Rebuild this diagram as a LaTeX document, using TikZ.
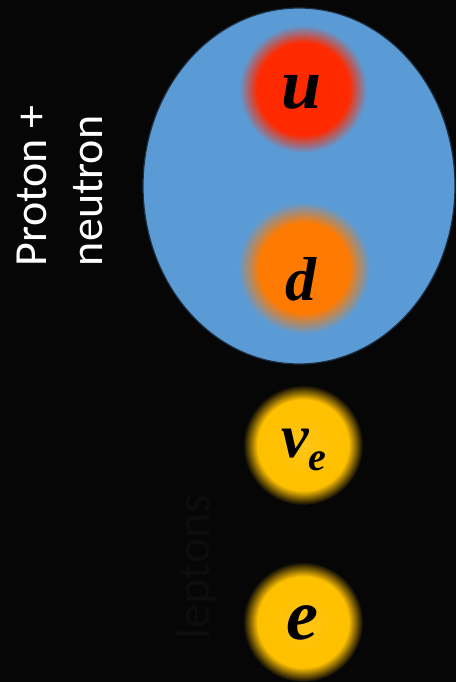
\documentclass[tikz,border=0pt]{standalone}
\usepackage{fontspec}
\setmainfont{Carlito}
\newfontfamily\qfont{Liberation Serif}
\usetikzlibrary{shapes.geometric}
\definecolor{bgblack}{HTML}{060606}
\definecolor{nucblue}{HTML}{5B9BD5}
\definecolor{upred}{HTML}{FF2A00}
\definecolor{downorange}{HTML}{FF7A00}
\definecolor{leptonyellow}{HTML}{FFC000}
\definecolor{leptonlight}{HTML}{FFC61A}
\definecolor{ghost}{HTML}{0D0D0D}
\pgfdeclareradialshading{redglow}{\pgfpoint{0bp}{0bp}}{color(0bp)=(upred); color(18bp)=(upred); color(25bp)=(nucblue); color(50bp)=(nucblue)}
\pgfdeclareradialshading{orangeglow}{\pgfpoint{0bp}{0bp}}{color(0bp)=(downorange); color(17bp)=(downorange); color(25bp)=(nucblue); color(50bp)=(nucblue)}
\pgfdeclareradialshading{yellowglow}{\pgfpoint{0bp}{0bp}}{color(0bp)=(leptonlight); color(12bp)=(leptonyellow); color(19bp)=(leptonyellow); color(25bp)=(bgblack); color(50bp)=(bgblack)}
\newcommand{\bigq}{\qfont\bfseries\itshape\fontsize{72}{80}\selectfont}
\newcommand{\midq}{\qfont\bfseries\itshape\fontsize{62}{72}\selectfont}
\newcommand{\subq}{\fontsize{40}{40}\selectfont}
\newcommand{\sidefont}{\fontsize{46}{56}\selectfont}
\newcommand{\lepfont}{\fontsize{48}{56}\selectfont}
\tikzset{
  quarktext/.style={inner sep=0pt, text=black},
  sidelabel/.style={rotate=90, inner sep=0pt, align=left},
}
\begin{document}
\begin{tikzpicture}[x=1pt, y=-1pt]
\fill[bgblack] (0,0) rectangle (456,682);
\useasboundingbox (0,0) rectangle (456,682);
\node[ellipse, draw=black!70!nucblue, line width=1.2pt, fill=nucblue, minimum width=312pt, minimum height=356pt, inner sep=0pt] (nucleon) at (299,186) {};
\coordinate (uc) at (303,89);
\coordinate (dc) at (304,268);
\coordinate (nc) at (303,445);
\coordinate (ec) at (303,622);
\shade[shading=redglow] (uc) circle (64pt);
\shade[shading=orangeglow] (dc) circle (66pt);
\shade[shading=yellowglow] (nc) circle (60pt);
\shade[shading=yellowglow] (ec) circle (60pt);
\node[quarktext, font=\bigq] (qu) at (302,92) {u};
\node[quarktext, font=\midq] (qd) at (301,279) {d};
\node[quarktext, font=\midq] (qnu) at (304,450) {ν\raisebox{-0.22em}{\subq e}};
\node[quarktext, font=\bigq] (qe) at (302,623) {e};
\node[sidelabel, text=white, font=\sidefont] (pn) at (60,186) {Proton +\\neutron};
\node[sidelabel, text=ghost, font=\lepfont] (lep) at (197,567) {leptons};
\end{tikzpicture}
\end{document}
